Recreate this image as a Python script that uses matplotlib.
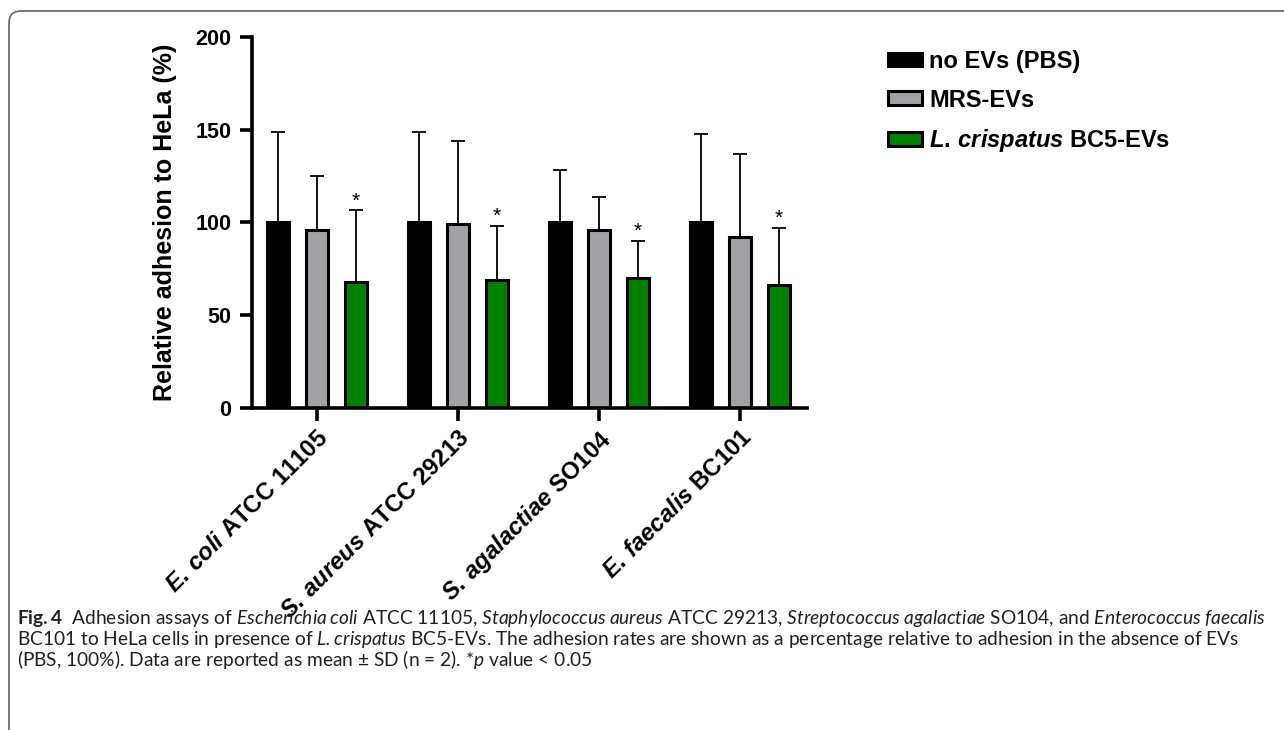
import matplotlib
matplotlib.use("Agg")
import matplotlib.pyplot as plt
import numpy as np
from matplotlib.patches import Patch, FancyBboxPatch
from matplotlib.transforms import IdentityTransform, ScaledTranslation

plt.rcParams['mathtext.fontset'] = 'custom'
plt.rcParams['mathtext.it'] = 'Liberation Sans:italic:bold'
plt.rcParams['mathtext.rm'] = 'Liberation Sans:bold'
plt.rcParams['mathtext.sf'] = 'Lato:italic'
plt.rcParams['mathtext.bf'] = 'Lato:bold'

# ---- data ----
strains = [r"$\mathit{E.\,coli}$ ATCC 11105",
           r"$\mathit{S.\,aureus}$ ATCC 29213",
           r"$\mathit{S.\,agalactiae}$ SO104",
           r"$\mathit{E.\,faecalis}$ BC101"]
series_names = ["no EVs (PBS)", "MRS-EVs", r"$\mathit{L.\,crispatus}$ BC5-EVs"]
pbs_mean = [100, 100, 100, 100]
pbs_sd = [49, 49, 28.5, 48]
mrs_mean = [96, 99, 96, 92]
mrs_sd = [29, 45, 18, 45]
bc5_mean = [68, 69, 70, 66.5]
bc5_sd = [38.5, 29, 20, 30.5]
significant = [True, True, True, True]
yticks = [0, 50, 100, 150, 200]

colors = ["#000000", "#A2A1A6", "#008000"]

fig = plt.figure(figsize=(12.84, 7.30), dpi=100)
ax = fig.add_axes([252/1284, 1-407.7/730, (807-252)/1284, (407.7-37.3)/730])

x = np.arange(len(strains))
step = 0.277
width = 0.158
means = [pbs_mean, mrs_mean, bc5_mean]
sds = [pbs_sd, mrs_sd, bc5_sd]
for j in range(3):
    xs = x + (j - 1) * step
    ax.bar(xs, means[j], width=width, color=colors[j], edgecolor="black",
           linewidth=2.2, zorder=2)
    ax.errorbar(xs, means[j], yerr=[np.zeros(len(xs)), sds[j]], fmt="none",
                ecolor="black", elinewidth=1.3, capsize=5, capthick=1.3, zorder=1)

xs_g = x + step
for i, sig in enumerate(significant):
    if sig:
        ax.annotate("*", xy=(xs_g[i], bc5_mean[i] + bc5_sd[i]), xytext=(0, 0),
                    textcoords="offset points", ha="center", va="bottom",
                    fontsize=15, family="Liberation Sans")

ax.set_ylim(0, 200)
ax.set_xlim(-0.461, 3.475)
ax.set_yticks(yticks)
ax.set_xticks(x)
ax.set_xticklabels(strains, rotation=45, ha="right", va="top",
                   rotation_mode="anchor", fontsize=17.2, fontweight="bold",
                   family="Liberation Sans")
shift = ScaledTranslation(-6/72, 6/72, fig.dpi_scale_trans)
for lab in ax.get_xticklabels():
    lab.set_transform(lab.get_transform() + shift)
for lab in ax.get_yticklabels():
    lab.set_fontsize(15.5)
    lab.set_fontweight("bold")
    lab.set_family("Liberation Sans")
ax.set_ylabel("Relative adhesion to HeLa (%)", fontsize=18, fontweight="bold",
              family="Liberation Sans", labelpad=13)
for s in ["top", "right"]:
    ax.spines[s].set_visible(False)
for s in ["left", "bottom"]:
    ax.spines[s].set_linewidth(2.6)
ax.tick_params(axis="both", length=9, width=2.6, direction="out", color="black")
ax.tick_params(axis="y", pad=6)
ax.tick_params(axis="x", pad=4)

handles = [Patch(facecolor=c, edgecolor="black", linewidth=2.2) for c in colors]
leg = ax.legend(handles, series_names, loc="upper left",
                bbox_to_anchor=(888/1284, 1-50/730), bbox_transform=fig.transFigure,
                frameon=False, borderaxespad=0, borderpad=0,
                handlelength=1.45, handleheight=0.5, handletextpad=0.3,
                labelspacing=0.66,
                prop={"family": "Liberation Sans", "weight": "bold", "size": 17})

# border (top and left with rounded corner)
border = FancyBboxPatch((9, -40), 1400, 730 - 11 + 40,
                        boxstyle="round,pad=0,rounding_size=12",
                        transform=IdentityTransform(), facecolor="none",
                        edgecolor="#6e6e6e", linewidth=1.3, clip_on=False)
fig.patches.append(border)

cap_color = "#231F20"
cap_lines = [
    r"$\mathbf{Fig.4}$  Adhesion assays of $\mathsf{Escherichia\:coli}$ ATCC 11105, "
    r"$\mathsf{Staphylococcus\:aureus}$ ATCC 29213, $\mathsf{Streptococcus\:agalactiae}$ SO104, "
    r"and $\mathsf{Enterococcus\:faecalis}$",
    r"BC101 to HeLa cells in presence of $\mathsf{L.crispatus}$ BC5-EVs. The adhesion rates "
    r"are shown as a percentage relative to adhesion in the absence of EVs",
    r"(PBS, 100%). Data are reported as mean ± SD (n = 2). *$\mathsf{p}$ value < 0.05",
]
baselines = [624, 645, 666]
for line, yb in zip(cap_lines, baselines):
    fig.text(17/1284, 1 - yb/730, line, family="Lato", fontsize=13.75,
             color=cap_color, va="baseline", ha="left")

fig.savefig("out.png", dpi=100)
